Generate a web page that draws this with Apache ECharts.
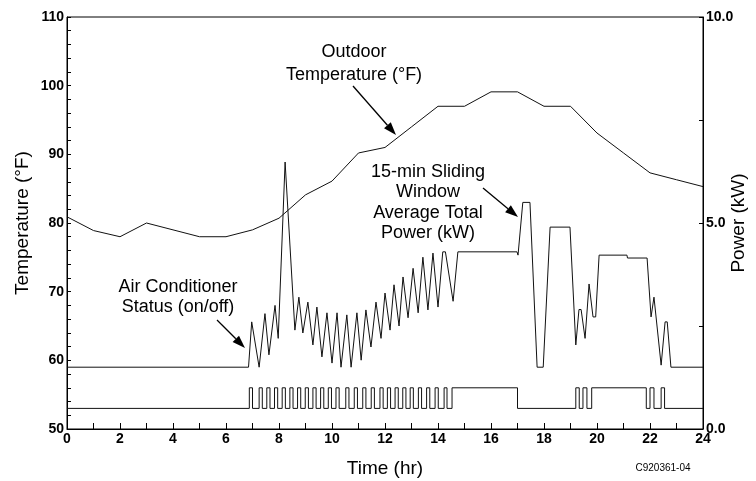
<!DOCTYPE html>
<html>
<head>
<meta charset="utf-8">
<script src="https://cdn.jsdelivr.net/npm/echarts@6/dist/echarts.min.js"></script>
<style>
  body { margin: 0; background: #fff; }
  #chart { width: 756px; height: 481px; }
</style>
</head>
<body>
<div id="chart"></div>
<script>
// outdoor temperature, hourly (°F)
const tempHours = [0,1,2,3,4,5,6,7,8,9,10,11,12,13,14,15,16,17,18,19,20,21,22,23,24];
const outdoorTemp = [80.9,78.9,78.0,80.0,79.0,78.0,78.0,79.0,80.7,84.1,86.1,90.2,91.0,94.0,97.0,97.0,99.1,99.1,97.0,97.0,93.1,90.2,87.3,86.3,85.3];

// 15-min sliding window average power (kW)
const powerHours = [0,6.85,6.97,7.03,7.25,7.47,7.62,7.85,7.97,8.23,8.6,8.75,8.9,9.09,9.28,9.43,9.62,9.81,10.0,10.19,10.34,10.56,10.72,10.94,11.1,11.28,11.47,11.66,11.85,12.0,12.19,12.34,12.53,12.68,12.87,13.06,13.25,13.43,13.62,13.81,14.0,14.18,14.28,14.57,14.75,16.98,17.02,17.2,17.47,17.74,17.97,18.23,18.98,19.2,19.32,19.4,19.55,19.7,19.85,19.95,20.08,21.13,21.15,21.89,22.04,22.15,22.42,22.57,22.65,22.79,24];
const powerKW    = [1.5,1.5,2.6,2.6,1.5,2.8,1.8,3.0,2.2,6.48,2.4,3.2,2.33,3.08,2.04,2.96,1.75,2.82,1.6,2.82,1.5,2.77,1.5,2.82,1.67,2.89,1.99,3.08,2.2,3.3,2.4,3.5,2.5,3.69,2.7,3.9,2.82,4.17,2.89,4.27,2.96,4.3,4.3,3.1,4.3,4.3,4.22,5.5,5.5,1.5,1.5,4.9,4.9,2.04,2.9,2.9,2.2,3.52,2.72,2.72,4.22,4.22,4.15,4.15,2.72,3.2,1.55,2.6,2.6,1.5,1.5];

// air conditioner on/off: switch-on and switch-off times (hr)
const acOn  = [6.88,7.25,7.54,7.83,8.12,8.41,8.70,8.99,9.28,9.57,9.86,10.15,10.52,10.84,11.16,11.48,11.81,12.09,12.38,12.67,12.95,13.26,13.57,13.89,14.23,14.53,19.20,19.47,19.80,22.00,22.42];
const acOff = [7.00,7.37,7.66,7.95,8.24,8.53,8.82,9.11,9.40,9.69,9.98,10.27,10.64,10.96,11.28,11.60,11.93,12.21,12.50,12.79,13.07,13.38,13.69,14.01,14.34,17.00,19.33,19.62,21.86,22.15,22.55];
const acLevelOff = 0.5;   // plotted on the power axis
const acLevelOn = 1.0;

const FONT = 'Liberation Sans, Arial, Helvetica, sans-serif';
const INK = '#111';

const tempData = tempHours.map((h, i) => [h, outdoorTemp[i]]);
const powerData = powerHours.map((h, i) => [h, powerKW[i]]);
const acData = [[0, acLevelOff]];
acOn.forEach((t, i) => {
  acData.push([t, acLevelOff], [t, acLevelOn], [acOff[i], acLevelOn], [acOff[i], acLevelOff]);
});
acData.push([24, acLevelOff]);

const chart = echarts.init(document.getElementById('chart'));

function arrow(x1, y1, x2, y2) {
  const dx = x2 - x1, dy = y2 - y1;
  const len = Math.sqrt(dx * dx + dy * dy);
  const ux = dx / len, uy = dy / len;
  const hl = 13, hw = 4.5;
  const bx = x2 - ux * hl, by = y2 - uy * hl;
  return [
    { type: 'line', shape: { x1: x1, y1: y1, x2: bx, y2: by }, style: { stroke: '#000', lineWidth: 1.3 } },
    { type: 'polygon', shape: { points: [[x2, y2], [bx - uy * hw, by + ux * hw], [bx + uy * hw, by - ux * hw]] }, style: { fill: '#000' } }
  ];
}

function note(text, x, y, lh) {
  return { type: 'text', x: x, y: y,
    style: { text: text, font: '18px ' + FONT, fill: '#000', align: 'center', verticalAlign: 'top', lineHeight: lh } };
}

const option = {
  animation: false,
  backgroundColor: '#fff',
  grid: { left: 67, right: 53, top: 17, bottom: 52, show: true, borderColor: '#000', borderWidth: 1,
    containLabel: false, outerBoundsMode: 'none' },
  xAxis: {
    type: 'value', min: 0, max: 24, interval: 1,
    name: 'Time (hr)', nameLocation: 'middle', nameGap: 30,
    nameTextStyle: { fontSize: 19, color: '#000', fontFamily: FONT },
    axisLine: { lineStyle: { color: '#000' } },
    axisTick: { inside: true, length: 6, lineStyle: { color: '#000' } },
    axisLabel: { formatter: v => (v % 2 === 0 ? String(v) : ''), fontWeight: 'bold', fontSize: 14, color: '#000', fontFamily: FONT, margin: 3 },
    splitLine: { show: false }
  },
  yAxis: [
    {
      type: 'value', min: 50, max: 110, interval: 2,
      name: 'Temperature (°F)', nameLocation: 'middle', nameGap: 35, nameRotate: 90, nameMoveOverlap: false,
      nameTextStyle: { fontSize: 19, color: '#000', fontFamily: FONT },
      axisLine: { show: true, lineStyle: { color: '#000' } },
      axisTick: { inside: true, length: 4, lineStyle: { color: '#000' } },
      axisLabel: { formatter: v => (v % 10 === 0 ? String(v) : ''), fontWeight: 'bold', fontSize: 14, color: '#000', fontFamily: FONT, margin: 3 },
      splitLine: { show: false }
    },
    {
      type: 'value', min: 0, max: 10, interval: 2.5, position: 'right',
      name: 'Power (kW)', nameLocation: 'middle', nameGap: 26, nameRotate: 90, nameMoveOverlap: false,
      nameTextStyle: { fontSize: 19, color: '#000', fontFamily: FONT },
      axisLine: { show: true, lineStyle: { color: '#000' } },
      axisTick: { inside: true, length: 4, lineStyle: { color: '#000' } },
      axisLabel: { formatter: v => (v % 5 === 0 ? v.toFixed(1) : ''), fontWeight: 'bold', fontSize: 14, color: '#000', fontFamily: FONT, margin: 3 },
      splitLine: { show: false }
    }
  ],
  series: [
    { name: 'Outdoor Temperature', type: 'line', yAxisIndex: 0, data: tempData, symbol: 'none',
      lineStyle: { color: INK, width: 1 } },
    { name: 'Average Total Power', type: 'line', yAxisIndex: 1, data: powerData, symbol: 'none',
      lineStyle: { color: INK, width: 1 } },
    { name: 'Air Conditioner Status', type: 'line', yAxisIndex: 1, data: acData, symbol: 'none',
      lineStyle: { color: INK, width: 1 } }
  ],
  graphic: [
    note('Outdoor\nTemperature (°F)', 354, 41, 23),
    note('15-min Sliding\nWindow\nAverage Total\nPower (kW)', 428, 162, 20.3),
    note('Air Conditioner\nStatus (on/off)', 178, 277, 20),
    ...arrow(353, 86, 396, 135),
    ...arrow(483, 188, 518, 217),
    ...arrow(217, 320, 245, 348),
    { type: 'text', x: 663, y: 468,
      style: { text: 'C920361-04', font: '10px ' + FONT, fill: '#000', align: 'center', verticalAlign: 'middle' } }
  ]
};

chart.setOption(option);
</script>
</body>
</html>
